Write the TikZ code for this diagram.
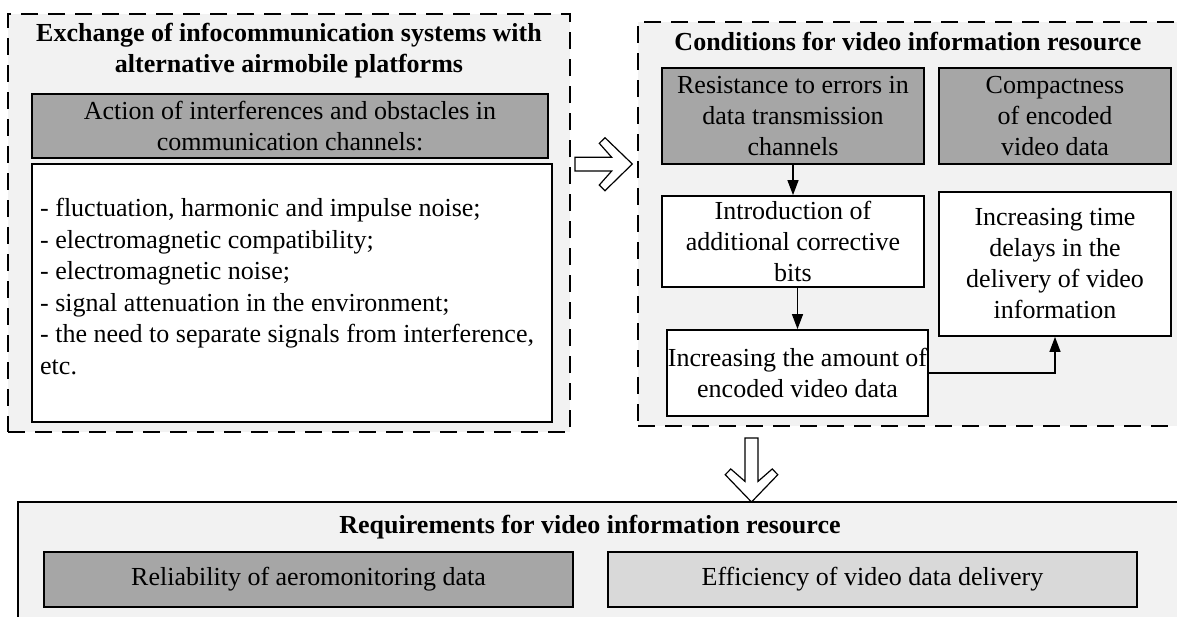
\documentclass[tikz,border=0pt]{standalone}
\usepackage{fontspec}
\setmainfont{Liberation Serif}
\usetikzlibrary{arrows.meta}
\definecolor{panelgray}{HTML}{F2F2F2}
\definecolor{darkfill}{HTML}{A6A6A6}
\definecolor{lightfill}{HTML}{D9D9D9}
\begin{document}
\begin{tikzpicture}[x=1pt,y=-1pt,
  every node/.style={font=\fontsize{26}{31}\selectfont, inner sep=0pt},
  frame/.style={draw, line width=2.2pt, dash pattern=on 17pt off 10pt, fill=panelgray},
  solidframe/.style={draw, line width=2pt, fill=panelgray},
  box/.style={draw, line width=1.8pt, align=center},
  darkbox/.style={box, fill=darkfill},
  lightbox/.style={box, fill=lightfill},
  whitebox/.style={box, fill=white},
  link/.style={line width=1.3pt, -{Triangle[length=15pt,width=11pt]}},
  blockarrow/.style={draw, line width=1.2pt, fill=white, line join=miter},
  heading/.style={font=\bfseries\fontsize{26}{31}\selectfont, align=center}
]
\useasboundingbox (0,0) rectangle (1177,616);
\fill[white] (0,0) rectangle (1177,616);
\begin{scope}
\clip (0,0) rectangle (1177,616);

% left panel: exchange of infocommunication systems
\node[frame, minimum width=562pt, minimum height=418pt] (exch) at (289,223) {};
\node[heading, anchor=north] (exchtitle) at (289,23)
  {Exchange of infocommunication systems with\\alternative airmobile platforms};
\node[darkbox, minimum width=516pt, minimum height=64pt] (action) at (290,126)
  {Action of interferences and obstacles in\\communication channels:};
\node[whitebox, minimum width=520pt, minimum height=258pt] (listbox) at (292,293) {};
\node[anchor=north west, align=left, font=\fontsize{26}{31.6}\selectfont] (items) at (40,198)
  {- fluctuation, harmonic and impulse noise;\\
   - electromagnetic compatibility;\\
   - electromagnetic noise;\\
   - signal attenuation in the environment;\\
   - the need to separate signals from interference,\\
   etc.};

% right panel: conditions for the video information resource
\node[frame, minimum width=552pt, minimum height=404pt] (cond) at (914,224) {};
\node[heading, anchor=base] (condtitle) at (908,50) {Conditions for video information resource};
\node[darkbox, minimum width=262pt, minimum height=96pt] (resist) at (793,116)
  {Resistance to errors in\\data transmission\\channels};
\node[darkbox, minimum width=232pt, minimum height=96pt] (compact) at (1055,116)
  {Compactness\\of encoded\\video data};
\node[whitebox, minimum width=262pt, minimum height=91pt] (intro) at (793,241.5)
  {Introduction of\\additional corrective\\bits};
\node[whitebox, minimum width=232pt, minimum height=144pt] (delays) at (1055,264)
  {Increasing time\\delays in the\\delivery of video\\information};
\node[whitebox, minimum width=261pt, minimum height=86pt] (amount) at (797.5,373)
  {Increasing the amount of\\encoded video data};

\draw[link] (resist.south) -- (intro.north);
\draw[link] (intro.south -| amount.north) -- (amount.north);
\draw[link] (amount.east) -| (delays.south);

% bottom panel: requirements
\node[solidframe, minimum width=1172pt, minimum height=128pt] (req) at (604,566) {};
\node[heading, anchor=base] (reqtitle) at (590,533) {Requirements for video information resource};
\node[darkbox, minimum width=529pt, minimum height=55pt] (reliab) at (308.5,579.5)
  {Reliability of aeromonitoring data};
\node[lightbox, minimum width=529pt, minimum height=55pt] (effic) at (872.5,579.5)
  {Efficiency of video data delivery};

% hollow block arrows between the panels
\draw[blockarrow] (575,157.3) -- (611.7,157.3) -- (599.3,143.3) -- (605,137.7)
  -- (632.3,164) -- (605,190.7) -- (599.3,185) -- (611.7,171) -- (575,171) -- cycle;
\draw[blockarrow] (745,438) -- (758,438) -- (758,481.4) -- (772.2,469) -- (777.8,474.7)
  -- (751.5,502) -- (725.2,474.7) -- (730.8,469) -- (745,481.4) -- cycle;
\end{scope}
\end{tikzpicture}
\end{document}
